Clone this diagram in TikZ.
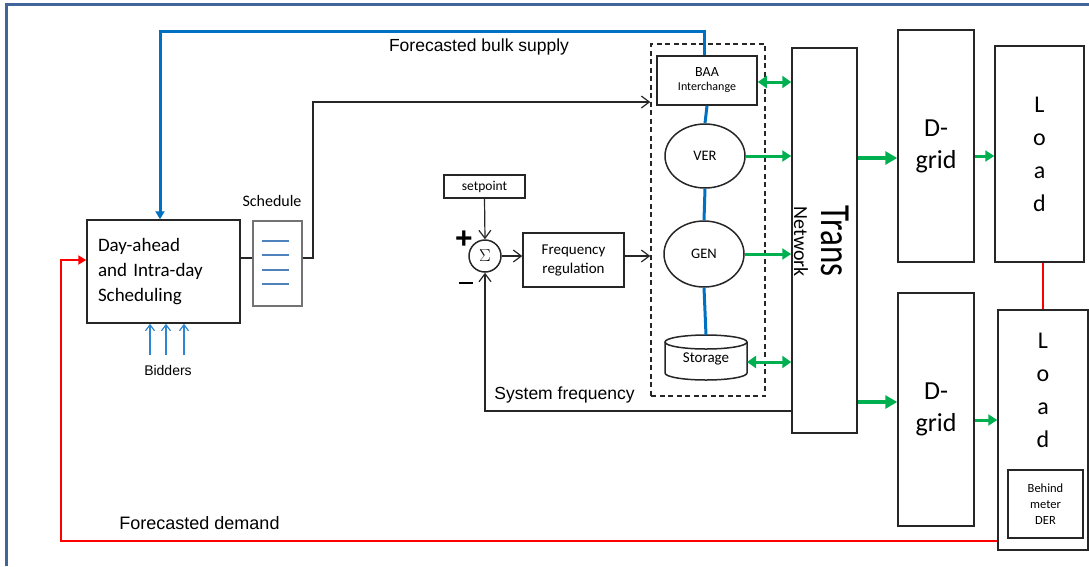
\documentclass[tikz,border=0pt]{standalone}
\usepackage{fontspec}
\setmainfont{Carlito}
\newfontfamily\arial{Liberation Sans}
\usetikzlibrary{arrows.meta,shapes.geometric}
\definecolor{frameblue}{HTML}{41659A}
\definecolor{lineblue}{HTML}{0070C0}
\definecolor{bidblue}{HTML}{2E86D0}
\definecolor{schedblue}{HTML}{4F81BD}
\definecolor{ggreen}{HTML}{00B050}
\definecolor{rred}{HTML}{FF0000}
\newcommand{\fs}[2]{\fontsize{#1}{#2}\selectfont}
\tikzset{
  box/.style={draw=black!85, line width=1.5pt, minimum width=#1},
  lbl/.style={inner sep=0pt, align=center},
  arr/.style={draw=black!85, line width=1.2pt, -{Straight Barb[length=8pt,width=12pt,line width=1.2pt]}},
  blk/.style={draw=black!85, line width=1.2pt},
  bluearr/.style={draw=lineblue, line width=3pt, -{Triangle[length=8pt,width=9pt]}},
  blueline/.style={draw=lineblue, line width=3pt},
  redarr/.style={draw=rred, line width=2.2pt, -{Triangle[length=8pt,width=9pt]}},
  redline/.style={draw=rred, line width=2.2pt},
  garr/.style={draw=ggreen, line width=3pt, -{Triangle[length=9pt,width=11pt]}},
  gdbl/.style={draw=ggreen, line width=3pt, {Triangle[length=9pt,width=12pt]}-{Triangle[length=9pt,width=12pt]}},
  gbig/.style={draw=ggreen, line width=4pt, -{Triangle[length=12pt,width=13pt]}},
  bidarr/.style={draw=bidblue, line width=1.2pt, -{Straight Barb[length=6pt,width=9pt,line width=1.2pt]}},
}
\begin{document}
\begin{tikzpicture}[x=1pt,y=-1pt]
\useasboundingbox (0,0) rectangle (1089,566);
% frame
\draw[frameblue, line width=3pt] (6,566) -- (6,4) -- (1089,4);

% scheduling
\node[box=153pt, minimum height=103pt, text width=131pt, align=left, inner sep=0pt, font=\fs{19}{25}] (sched) at (163.5,271.5) {Day-ahead\\and Intra-day\\Scheduling};
\node[draw=black!55, line width=1.2pt, minimum width=49pt, minimum height=85pt, inner sep=0pt] (schedbox) at (277.5,263.5) {};
\foreach \yy in {241,255,270,284} \draw[schedblue, line width=1.2pt] (262,\yy) -- (289,\yy);
\node[lbl, font=\fs{16}{19}] (schedlbl) at (272,201) {Schedule};

% dashed group and members
\node[draw=black!85, dash pattern=on 5pt off 3.5pt, line width=1.4pt, minimum width=114pt, minimum height=352pt, inner sep=0pt] (dash) at (708,220) {};
\node[box=100pt, minimum height=49pt, inner sep=0pt, align=center] (baa) at (707,80.5) {{\fs{14}{15}BAA}\\[2pt]{\fs{12}{13}Interchange}};
\node[ellipse, draw=black!85, line width=1.5pt, minimum width=80pt, minimum height=64pt, inner sep=0pt, font=\fs{14.5}{16}] (ver) at (705,156) {VER};
\node[ellipse, draw=black!85, line width=1.5pt, minimum width=80pt, minimum height=66pt, inner sep=0pt, font=\fs{14.5}{16}] (gen) at (704,254) {GEN};
% storage cylinder
\draw[black!85, line width=1.5pt, fill=white] (665,342) -- (665,373) arc[start angle=180, end angle=0, x radius=41, y radius=7] -- (747,342);
\draw[black!85, line width=1.5pt, fill=white] (706,342) ellipse[x radius=41, y radius=7];
\node[inner sep=0pt, minimum width=82pt, minimum height=45pt, font=\fs{15}{17}] (stor) at (706,357.5) {\raisebox{-5pt}[0pt][0pt]{Storage}};

% blue chain
\draw[blueline] (baa.south) -- (ver.north);
\draw[blueline] (ver.south) -- (gen.north);
\draw[blueline] (gen.south) -- (706,335);

% trans network
\node[box=65pt, minimum height=385pt, inner sep=0pt] (trans) at (824.5,240.5) {};
\node[lbl, rotate=-90, anchor=east, font=\fs{33}{36}] (transA) at (835,277) {\scalebox{1}[1.3]{Trans}};
\node[lbl, rotate=-90, anchor=east, font=\fs{20}{22}] (transB) at (801,277) {Network};

% D-grids
\node[box=76pt, minimum height=232pt, inner sep=0pt, font=\fs{26}{32}, align=center] (dg1) at (936,146) {D-\\grid};
\node[box=76pt, minimum height=233pt, inner sep=0pt, font=\fs{26}{32}, align=center] (dg2) at (936,409.5) {D-\\grid};

% Loads
\node[box=89pt, minimum height=216pt, inner sep=0pt, font=\fs{24}{33}, align=center] (load1) at (1039.5,154) {L\\o\\a\\d};
\node[box=90pt, minimum height=240pt, inner sep=0pt] (load2) at (1043,430) {};
\node[lbl, font=\fs{24}{33}] (load2txt) at (1043,390) {L\\o\\a\\d};
\node[draw=black!85, line width=1.2pt, minimum width=75pt, minimum height=68pt, inner sep=0pt, align=center, font=\fs{12.5}{16}] (der) at (1045.5,504) {Behind\\meter\\DER};

% setpoint / sum / frequency regulation
\node[draw=black!85, line width=1.5pt, minimum width=81pt, minimum height=23pt, inner sep=0pt, font=\fs{13.5}{15}] (sp) at (484.5,186.5) {setpoint};
\node[circle, draw=black!85, line width=1.5pt, minimum size=32pt, inner sep=0pt, font=\fs{17}{17}] (sum) at (485,256) {$\Sigma$};
\node[lbl, font=\arial\bfseries\fs{30}{30}] (plus) at (464,240) {+};
\node[lbl] (minus) at (466,283) {\rule{14pt}{2.5pt}};
\node[box=101pt, minimum height=54pt, inner sep=0pt, align=center, font=\fs{15}{19}] (fr) at (573.5,260) {Frequency\\regulation};

\draw[arr] (sp.south) -- (sum.north);
\draw[arr] (sum.east) -- (sum.east -| fr.west);
\draw[arr] (fr.east |- sum.east) -- (sum.east -| dash.west);
\coordinate (sf) at (485,411);
\draw[arr] (sf -| trans.west) -- (sf) -- (sum.south);
\node[lbl, font=\arial\fs{17.5}{20}] (sflbl) at (564.5,395) {System frequency};

% schedule connectors
\coordinate (sc) at (313,258);
\draw[blk] (sched.east |- sc) -- (schedbox.west |- sc);
\coordinate (sc2) at (313,102);
\draw[arr] (schedbox.east |- sc) -- (sc) -- (sc2) -- (sc2 -| dash.west);

% forecasted bulk supply
\coordinate (bt) at (160,31);
\draw[bluearr] (baa.north -| 704,0) |- (bt) -- (bt |- sched.north);
\node[lbl, font=\arial\fs{17.5}{20}] (fbs) at (479,47) {Forecasted bulk supply};

% bidders
\foreach \i/\xx in {1/150,2/166,3/184} {
  \coordinate (bd\i) at (\xx,355);
  \draw[bidarr] (bd\i) -- (bd\i |- sched.south);
}
\node[lbl, font=\arial\fs{14}{16}] (bidlbl) at (168,370) {Bidders};

% green flows
\draw[gdbl] (baa.east |- 0,82) -- (trans.west |- 0,82);
\draw[garr] (ver.east) -- (ver.east -| trans.west);
\draw[garr] (gen.east) -- (gen.east -| trans.west);
\draw[gdbl] (747,362) -- (trans.west |- 0,362);
\draw[gbig] (trans.east |- 0,158) -- (dg1.west |- 0,158);
\draw[gbig] (trans.east |- 0,402) -- (dg2.west |- 0,402);
\draw[garr] (dg1.east |- 0,156) -- (load1.west |- 0,156);
\draw[garr] (dg2.east |- 0,420) -- (load2.west |- 0,420);

% red demand
\draw[redline] (load2.north) -- (load2.north |- load1.south);
\coordinate (rd) at (61,541);
\coordinate (rd2) at (61,260);
\draw[redarr] (load2.west |- rd) -- (rd) -- (rd2) -- (rd2 -| sched.west);
\node[lbl, font=\arial\fs{18}{20}] (fdlbl) at (199.5,523) {Forecasted demand};
\end{tikzpicture}
\end{document}
